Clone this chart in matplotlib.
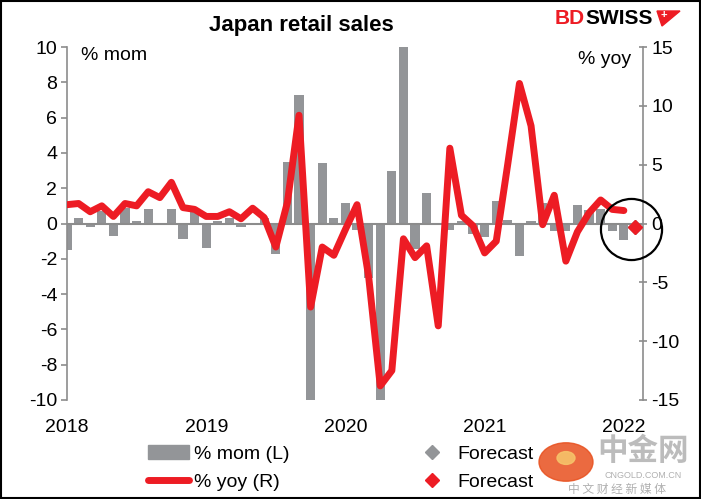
import matplotlib
matplotlib.use("Agg")
import matplotlib.pyplot as plt
from matplotlib.patches import Rectangle, Circle, Polygon
from matplotlib.lines import Line2D
import numpy as np

plt.rcParams['font.family'] = ['Liberation Sans', 'DejaVu Sans']
plt.rcParams['axes.unicode_minus'] = False

# ---------------- data ----------------
year_labels = ["2018", "2019", "2020", "2021", "2022"]
year_ticks = [0, 12, 24, 36, 48]  # month index of January each year

mom = [
    -1.5, 0.3, -0.2, 0.7, -0.7, 0.85, 0.15, 0.8, 0.0, 0.8, -0.85, 0.7,      # 2018
    -1.4, 0.15, 0.3, -0.2, 0.0, 0.3, -1.7, 3.5, 7.3, -14.4, 3.4, 0.3,       # 2019
    1.15, -0.35, -3.1, -10.5, 3.0, 13.1, -1.45, 1.7, 0.0, -0.35, 0.15, -0.6,# 2020
    -0.75, 1.3, 0.2, -1.85, 0.15, 1.15, -0.45, -0.45, 1.05, 0.75, 0.8, -0.45,# 2021
    -0.95,                                                                   # 2022
]
yoy = [
    1.6, 1.7, 1.0, 1.5, 0.6, 1.7, 1.5, 2.7, 2.2, 3.5, 1.35, 1.2,            # 2018
    0.6, 0.6, 1.0, 0.4, 1.3, 0.5, -2.0, 1.8, 9.2, -7.1, -2.0, -2.7,         # 2019
    -0.5, 1.6, -4.5, -13.8, -12.5, -1.3, -2.9, -1.9, -8.7, 6.4, 0.7, -0.2,  # 2020
    -2.5, -1.5, 5.1, 11.9, 8.3, -0.1, 2.4, -3.2, -0.7, 0.9, 2.0, 1.2,       # 2021
    1.1,                                                                     # 2022
]
forecast_mom = -0.2
forecast_yoy = -0.3

months = np.arange(len(mom))
forecast_x = len(mom)

GREY = "#939598"
RED = "#ED1C24"
AXGREY = "#8C8C8C"

W, H = 701, 499
def fx(px):
    return px / W
def fy(py):
    return 1 - py / H

# ---------------- figure ----------------
fig = plt.figure(figsize=(7.01, 4.99), dpi=100)
ax = fig.add_axes([fx(67), fy(400), (643 - 67) / W, (400 - 47) / H])
ax2 = ax.twinx()

ax.bar(months, mom, width=0.8, color=GREY, zorder=2)
ax.axhline(0, color=AXGREY, lw=1.5, zorder=3)
ax2.plot(months, yoy, color=RED, lw=5, solid_capstyle='round',
         solid_joinstyle='round', zorder=4)
ax.plot([forecast_x], [forecast_mom], marker='D', ms=7, color=GREY,
        ls='none', zorder=5)
ax2.plot([forecast_x], [forecast_yoy], marker='D', ms=7, color=RED,
         ls='none', zorder=6)
# highlight circle around the forecast
ax2.plot([forecast_x - 0.4], [forecast_yoy - 0.2], marker='o', ms=44,
         mfc='none', mec='black', mew=1.6, ls='none', clip_on=False, zorder=7)

ax.set_xlim(0, 49.65)
ax.set_ylim(-10, 10)
ax2.set_ylim(-15, 15)
ax.set_yticks(np.arange(-10, 11, 2))
ax2.set_yticks(np.arange(-15, 16, 5))
ax.set_xticks(year_ticks)
ax.set_xticklabels(year_labels)

for a in (ax, ax2):
    for s in ("top", "bottom"):
        a.spines[s].set_visible(False)
ax.spines["right"].set_visible(False)
ax2.spines["left"].set_visible(False)
ax.spines["left"].set_color(AXGREY)
ax2.spines["right"].set_color(AXGREY)
ax.spines["left"].set_linewidth(1.2)
ax2.spines["right"].set_linewidth(1.2)

ax.tick_params(axis='y', direction='out', length=4, width=1.2, color=AXGREY,
               labelsize=14, pad=3)
ax2.tick_params(axis='y', direction='inout', length=6, width=1.2, color=AXGREY,
                labelsize=14, pad=3)
ax.tick_params(axis='x', length=0, labelsize=14, pad=13.5)

ax.text(0.025, 1.0, "% mom", transform=ax.transAxes, fontsize=14,
        va='top', ha='left')
ax2.text(0.98, 0.99, "% yoy", transform=ax2.transAxes, fontsize=14,
         va='top', ha='right')

fig.text(fx(301), fy(25), "Japan retail sales", fontsize=16,
         fontweight='bold', ha='center', va='center')

# legend
handles = [
    Rectangle((0, 0), 1, 1, color=GREY),
    Line2D([0], [0], color=RED, lw=5, solid_capstyle='round'),
    Line2D([0], [0], marker='D', color=GREY, ls='none', ms=7),
    Line2D([0], [0], marker='D', color=RED, ls='none', ms=7),
]
labels = ["% mom (L)", "% yoy (R)", "Forecast", "Forecast"]
fig.legend(handles, labels, ncol=2, loc='upper left',
           bbox_to_anchor=(fx(148), fy(445)), frameon=False, fontsize=14,
           handlelength=2.1, handletextpad=0.25, columnspacing=6.3,
           labelspacing=0.55, borderaxespad=0, borderpad=0)

# BDSWISS logo
fig.text(fx(555), fy(19), "BD", color=RED, fontsize=15, fontweight='bold',
         ha='left', va='center')
fig.text(fx(585), fy(19), "SWISS", color='black', fontsize=15,
         fontweight='bold', ha='left', va='center')
fig.patches.append(Polygon([(fx(657), fy(11)), (fx(680), fy(11)), (fx(662), fy(26))],
                           closed=True, transform=fig.transFigure, color=RED, zorder=3))
fig.text(fx(664), fy(15), "+", color='white', fontsize=8, fontweight='bold',
         ha='center', va='center', zorder=4)

# watermark
fig.patches.append(Circle((fx(566), fy(462)), 27 / W, transform=fig.transFigure,
                          color="#E8501E", alpha=0.85, zorder=0))
fig.patches.append(Circle((fx(566), fy(458)), 9 / W, transform=fig.transFigure,
                          color="#F6C36A", alpha=0.9, zorder=1))
fig.text(fx(643), fy(451), "中金网", color="#A0A0A0", fontsize=22,
         fontweight='bold', family=['Noto Sans CJK SC', 'DejaVu Sans'],
         ha='center', va='center', alpha=0.7)
fig.text(fx(643), fy(476), "CNGOLD.COM.CN", color="#B0B0B0", fontsize=6.5,
         ha='center', va='center')
fig.text(fx(617), fy(489), "中 文 财 经 新 媒 体", color="#B0B0B0", fontsize=8.5,
         family=['Noto Sans CJK SC', 'DejaVu Sans'], ha='center', va='center')

# outer frame
fig.patches.append(Rectangle((0.0015, 0.002), 0.997, 0.996, transform=fig.transFigure,
                             fill=False, ec='black', lw=1.5, zorder=10))

fig.savefig("out.png", dpi=100)
